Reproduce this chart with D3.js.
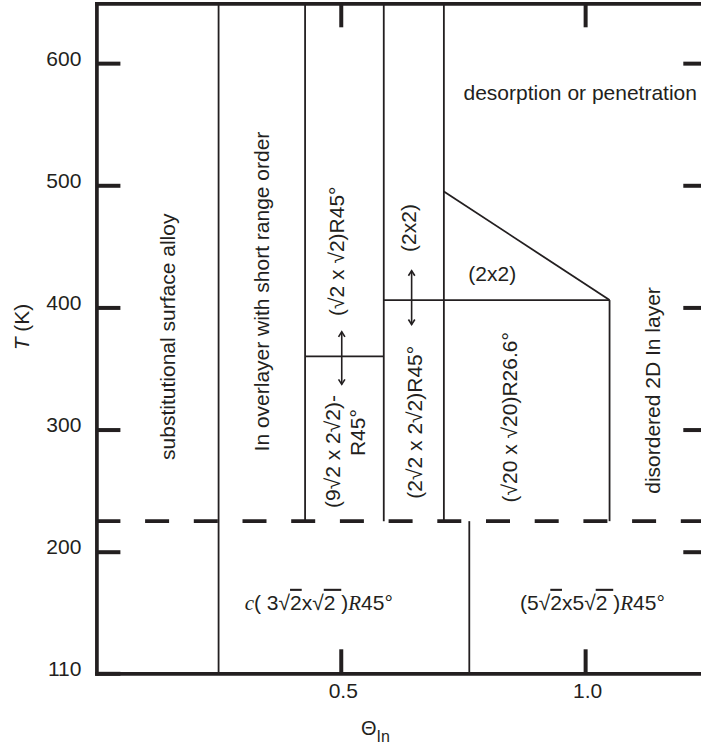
<!DOCTYPE html>
<html lang="en">
<meta charset="UTF-8">
<script src="https://d3js.org/d3.v7.min.js"></script>
<head>
  <title>In coverage / temperature phase diagram</title>
  <style>
    body { margin: 0; background: #fff; }
    text { font-family: "Liberation Sans", Arial, sans-serif; fill: #231f20; }
    .serif { font-family: "Liberation Serif", "Times New Roman", serif; font-style: italic; }
  </style>
</head>
<body>
<div id="chart"></div>
<script>
  const width = 701, height = 749;

  // axis ticks
  const thetaTicks = [0.5, 1.0];
  const tempTicks = [110, 200, 300, 400, 500, 600];
  const rightTicks = [200, 300, 400, 500, 600];

  // temperature of the order/disorder transition (dashed line)
  const transitionT = 225;

  // phase boundaries, [[theta, T], [theta, T]]
  const boundaries = [
    [[0.25, 110], [0.25, 649]],
    [[0.427, 225], [0.427, 649]],
    [[0.588, 225], [0.588, 649]],
    [[0.711, 225], [0.711, 649]],
    [[0.763, 110], [0.763, 225]],
    [[1.05, 225], [1.05, 406]],
    [[0.427, 360], [0.588, 360]],
    [[0.588, 406], [1.05, 406]],
    [[0.711, 495], [1.05, 406]]
  ];

  // reversible transitions (double arrows)
  const arrows = [
    [[0.502, 380], [0.502, 337]],
    [[0.645, 430], [0.645, 386]]
  ];

  // region names: text, theta, T, vertical?
  const regionText = [
    "substitutional surface alloy",
    "In overlayer with short range order",
    "(\u221A2 x \u221A2)R45\u00B0",
    "(2x2)",
    "(2\u221A2 x 2\u221A2)R45\u00B0",
    "(9\u221A2 x 2\u221A2)-",
    "R45\u00B0",
    "(\u221A20 x \u221A20)R26.6\u00B0",
    "disordered 2D In layer",
    "(2x2)",
    "desorption or penetration"
  ];
  const regionTheta = [0.161, 0.353, 0.506, 0.654, 0.666, 0.498, 0.55, 0.86, 1.154, 0.81, 0.99];
  const regionT = [376, 413, 446, 465, 306, 282, 297.5, 310, 332, 421.5, 570];
  const regionVertical = [true, true, true, true, true, true, true, true, true, false, false];

  // low temperature ordered phases
  const lowPhases = [
    { theta: 0.455, T: 157, parts: [["c", "serif"], ["( 3"], ["\u221A"], ["2", "bar"], ["x"], ["\u221A"], ["2 ", "bar"], [")"], ["R", "serif"], ["45"], ["\u00B0"]] },
    { theta: 1.015, T: 157, parts: [["(5"], ["\u221A"], ["2", "bar"], ["x5"], ["\u221A"], ["2 ", "bar"], [")"], ["R", "serif"], ["45"], ["\u00B0"]] }
  ];

  const x = d3.scaleLinear().domain([0, 1.25]).range([96.4, 707.3]);
  // the axis is shortened below 200 K
  const y = d3.scaleLinear().domain([110, 200, 649]).range([673.3, 551.7, 3.3]);

  const svg = d3.select("#chart").append("svg")
      .attr("width", width)
      .attr("height", height);

  const ink = "#231f20";

  // phase boundaries
  svg.append("g")
    .selectAll("line")
    .data(boundaries)
    .join("line")
      .attr("x1", d => x(d[0][0]))
      .attr("y1", d => y(d[0][1]))
      .attr("x2", d => x(d[1][0]))
      .attr("y2", d => y(d[1][1]))
      .attr("stroke", ink)
      .attr("stroke-width", 1.8);

  // dashed transition line
  svg.append("line")
      .attr("x1", x(0)).attr("x2", x(1.25))
      .attr("y1", y(transitionT)).attr("y2", y(transitionT))
      .attr("stroke", ink)
      .attr("stroke-width", 3.6)
      .attr("stroke-dasharray", "24 24.7");

  // arrow heads
  const defs = svg.append("defs");
  defs.append("marker")
      .attr("id", "head")
      .attr("viewBox", "-8 -5 10 10")
      .attr("refX", 0).attr("refY", 0)
      .attr("markerWidth", 10).attr("markerHeight", 10)
      .attr("markerUnits", "userSpaceOnUse")
      .attr("orient", "auto-start-reverse")
    .append("path")
      .attr("d", "M-5,-3.2L0,0L-5,3.2")
      .attr("fill", "none")
      .attr("stroke", ink)
      .attr("stroke-width", 1.6);

  svg.append("g")
    .selectAll("line")
    .data(arrows)
    .join("line")
      .attr("x1", d => x(d[0][0]))
      .attr("y1", d => y(d[0][1]))
      .attr("x2", d => x(d[1][0]))
      .attr("y2", d => y(d[1][1]))
      .attr("stroke", ink)
      .attr("stroke-width", 1.6)
      .attr("marker-start", "url(#head)")
      .attr("marker-end", "url(#head)");

  // axes, ticks pointing inwards
  const axisStyle = g => {
    g.select(".domain").attr("stroke", ink).attr("stroke-width", 3.7).attr("stroke-linecap", "square");
    g.selectAll(".tick line").attr("stroke", ink).attr("stroke-width", 4);
    g.selectAll(".tick text").attr("fill", ink).style("font-size", "21px")
      .attr("font-family", null);
  };

  svg.append("g")
      .attr("transform", `translate(${x(0)},0)`)
      .call(d3.axisLeft(y).tickValues(tempTicks).tickSizeInner(-24).tickSizeOuter(0).tickPadding(15).tickFormat(d3.format("d")))
      .call(axisStyle)
      .call(g => g.selectAll(".tick text").attr("dy", "0.1em"));

  svg.append("g")
      .attr("transform", `translate(${x(1.25)},0)`)
      .call(d3.axisRight(y).tickValues(rightTicks).tickSizeInner(-24).tickSizeOuter(0).tickFormat(""))
      .call(axisStyle);

  svg.append("g")
      .attr("transform", `translate(0,${y(110)})`)
      .call(d3.axisBottom(x).tickValues(thetaTicks).tickSizeInner(-24).tickSizeOuter(0).tickPadding(10).tickFormat(d3.format(".1f")))
      .call(axisStyle)
      .call(g => g.selectAll(".tick text").attr("dx", "2"));

  svg.append("g")
      .attr("transform", `translate(0,${y(649)})`)
      .call(d3.axisTop(x).tickValues(thetaTicks).tickSizeInner(-24).tickSizeOuter(0).tickFormat(""))
      .call(axisStyle);

  // axis titles
  const yTitle = svg.append("text")
      .attr("transform", "translate(29,327) rotate(-90)")
      .attr("text-anchor", "middle")
      .style("font-size", "21px");
  yTitle.append("tspan").style("font-style", "italic").text("T");
  yTitle.append("tspan").text(" (K)");

  const xTitle = svg.append("text")
      .attr("x", 361)
      .attr("y", 735)
      .style("font-size", "20px");
  xTitle.append("tspan").text("\u0398");
  xTitle.append("tspan").attr("dy", 7).style("font-size", "16px").text("In");

  // region labels
  svg.append("g")
    .selectAll("text")
    .data(regionText)
    .join("text")
      .attr("transform", (d, i) => regionVertical[i]
        ? `translate(${x(regionTheta[i])},${y(regionT[i])}) rotate(-90)`
        : `translate(${x(regionTheta[i])},${y(regionT[i])})`)
      .attr("text-anchor", "middle")
      .style("font-size", "21px")
      .text(d => d);

  // low temperature phase labels
  svg.append("g")
    .selectAll("text")
    .data(lowPhases)
    .join("text")
      .attr("x", d => x(d.theta))
      .attr("y", d => y(d.T))
      .attr("text-anchor", "middle")
      .style("font-size", "21px")
    .selectAll("tspan")
    .data(d => d.parts)
    .join("tspan")
      .attr("class", p => p[1] === "serif" ? "serif" : null)
      .style("text-decoration", p => p[1] === "bar" ? "overline" : null)
      .text(p => p[0]);
</script>
</body>
</html>
